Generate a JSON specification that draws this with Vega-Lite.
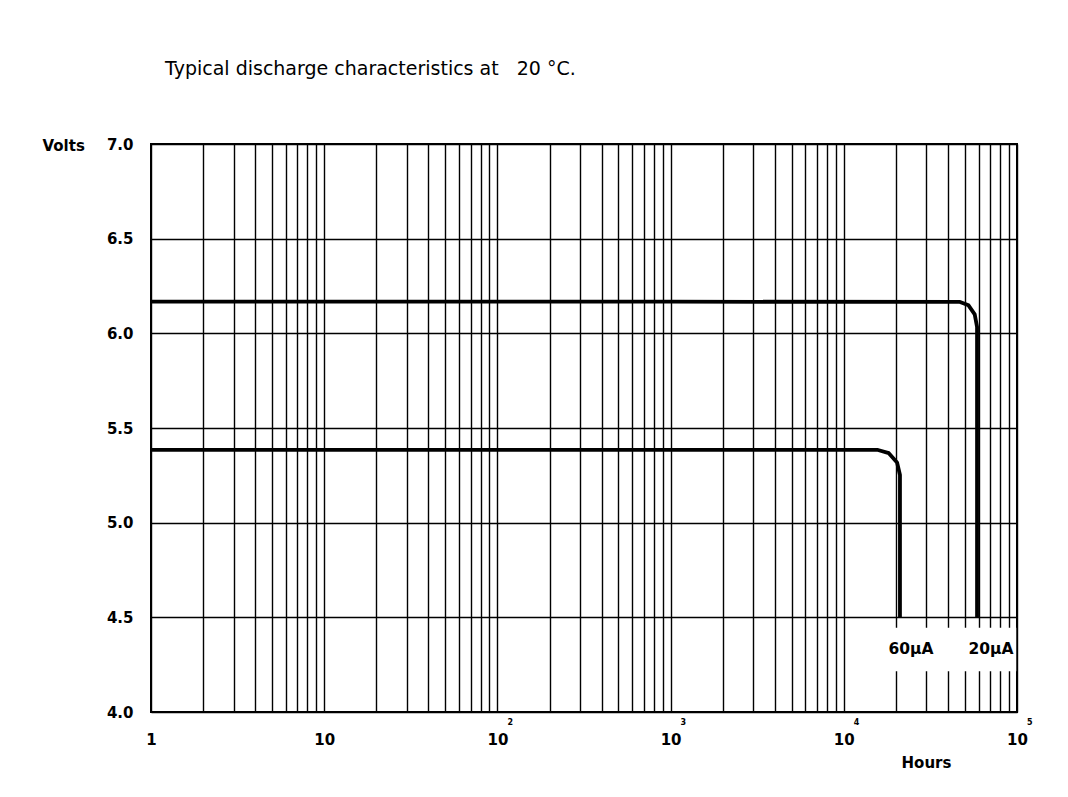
{
  "$schema": "https://vega.github.io/schema/vega-lite/v6.json",
  "autosize": {"type": "none"},
  "width": 866,
  "height": 568,
  "padding": {"left": 151, "top": 144, "right": 51, "bottom": 85},
  "background": "white",
  "title": {
    "text": "Typical discharge characteristics at \u00a0 20 °C.",
    "anchor": "start",
    "frame": "group",
    "dx": 14,
    "offset": 58,
    "font": "DejaVu Sans",
    "fontSize": 19,
    "fontWeight": "normal",
    "color": "black"
  },
  "config": {
    "view": {"stroke": "black", "strokeWidth": 2},
    "axis": {
      "grid": true,
      "gridColor": "black",
      "gridOpacity": 1,
      "gridWidth": 1.4,
      "ticks": false,
      "domain": false,
      "labelFont": "DejaVu Sans",
      "labelFontSize": 15,
      "labelFontWeight": "bold",
      "labelColor": "black",
      "titleFont": "DejaVu Sans",
      "titleFontSize": 15,
      "titleFontWeight": "bold",
      "titleColor": "black",
      "labelOverlap": false,
      "labelFlush": false
    }
  },
  "datasets": {
    "curves": [
      {"series": "20µA", "hours": 1, "volts": 6.167},
      {"series": "20µA", "hours": 10, "volts": 6.167},
      {"series": "20µA", "hours": 1000, "volts": 6.167},
      {"series": "20µA", "hours": 46900, "volts": 6.166},
      {"series": "20µA", "hours": 52500, "volts": 6.148},
      {"series": "20µA", "hours": 57000, "volts": 6.10},
      {"series": "20µA", "hours": 58800, "volts": 6.034},
      {"series": "20µA", "hours": 58800, "volts": 4.5},
      {"series": "60µA", "hours": 1, "volts": 5.384},
      {"series": "60µA", "hours": 10, "volts": 5.384},
      {"series": "60µA", "hours": 1000, "volts": 5.384},
      {"series": "60µA", "hours": 15750, "volts": 5.384},
      {"series": "60µA", "hours": 18200, "volts": 5.367},
      {"series": "60µA", "hours": 20300, "volts": 5.318},
      {"series": "60µA", "hours": 21100, "volts": 5.252},
      {"series": "60µA", "hours": 21100, "volts": 4.5}
    ],
    "labels": [
      {"label": "60µA", "hours": 24400, "volts": 4.333},
      {"label": "20µA", "hours": 70800, "volts": 4.333}
    ],
    "labelbox": [
      {"x1": 14500, "x2": 99000, "y1": 4.215, "y2": 4.445}
    ],
    "exponents": [
      {"hours": 100, "exp": "2"},
      {"hours": 1000, "exp": "3"},
      {"hours": 10000, "exp": "4"},
      {"hours": 100000, "exp": "5"}
    ]
  },
  "layer": [
    {
      "data": {"name": "labelbox"},
      "mark": {"type": "rect", "color": "white"},
      "encoding": {
        "x": {
          "field": "x1",
          "type": "quantitative",
          "scale": {"type": "log", "domain": [1, 100000], "nice": false},
          "axis": {
            "values": [1,2,3,4,5,6,7,8,9,10,20,30,40,50,60,70,80,90,100,200,300,400,500,600,700,800,900,1000,2000,3000,4000,5000,6000,7000,8000,9000,10000,20000,30000,40000,50000,60000,70000,80000,90000,100000],
            "labelExpr": "datum.value == 1 ? '1' : (indexof([10,100,1000,10000,100000], datum.value) >= 0 ? '10' : '')",
            "labelPadding": 20,
            "title": "Hours",
            "titleX": 775,
            "titleY": 50,
            "titleAlign": "center",
            "titleBaseline": "middle"
          }
        },
        "x2": {"field": "x2"},
        "y": {
          "field": "y1",
          "type": "quantitative",
          "scale": {"domain": [4, 7], "nice": false, "zero": false},
          "axis": {
            "values": [4, 4.5, 5, 5.5, 6, 6.5, 7],
            "format": ".1f",
            "labelPadding": 18,
            "title": "Volts",
            "titleAngle": 0,
            "titleAlign": "left",
            "titleBaseline": "middle",
            "titleX": -109,
            "titleY": 1
          }
        },
        "y2": {"field": "y2"}
      }
    },
    {
      "data": {"name": "curves"},
      "mark": {"type": "line", "color": "black", "strokeWidth": 3.8, "strokeJoin": "round"},
      "encoding": {
        "x": {"field": "hours", "type": "quantitative"},
        "y": {"field": "volts", "type": "quantitative"},
        "detail": {"field": "series"}
      }
    },
    {
      "data": {"name": "labels"},
      "mark": {"type": "text", "font": "DejaVu Sans", "fontSize": 15.5, "fontWeight": "bold", "color": "black", "align": "center", "baseline": "middle"},
      "encoding": {
        "x": {"field": "hours", "type": "quantitative"},
        "y": {"field": "volts", "type": "quantitative"},
        "text": {"field": "label"}
      }
    },
    {
      "data": {"name": "exponents"},
      "mark": {"type": "text", "font": "DejaVu Sans", "fontSize": 8, "fontWeight": "bold", "color": "black", "align": "left", "baseline": "middle", "dx": 10, "dy": 11},
      "encoding": {
        "x": {"field": "hours", "type": "quantitative"},
        "y": {"datum": 4},
        "text": {"field": "exp"}
      }
    }
  ]
}
